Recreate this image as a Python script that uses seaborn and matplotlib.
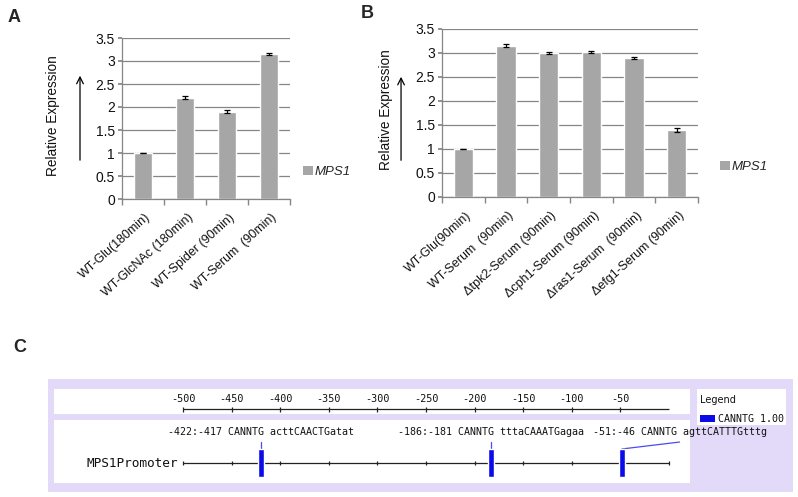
import numpy as np
import pandas as pd
import seaborn as sns
import matplotlib.pyplot as plt
import matplotlib.transforms as mtransforms
from matplotlib.patches import Rectangle, Patch

sns.set_theme(context="notebook", style="white")
plt.rcParams['font.family'] = ['Liberation Sans', 'DejaVu Sans']

# ---- data ----
a_conditions = ["WT-Glu(180min)", "WT-GlcNAc (180min)", "WT-Spider (90min)", "WT-Serum  (90min)"]
a_values = [1.0, 2.2, 1.9, 3.15]
a_errors = [0.01, 0.035, 0.025, 0.03]

b_conditions = ["WT-Glu(90min)", "WT-Serum  (90min)", "\u0394tpk2-Serum (90min)",
                "\u0394cph1-Serum (90min)", "\u0394ras1-Serum  (90min)", "\u0394efg1-Serum (90min)"]
b_values = [1.0, 3.15, 3.0, 3.02, 2.89, 1.4]
b_errors = [0.01, 0.03, 0.025, 0.025, 0.025, 0.04]

y_ticks = [0, 0.5, 1, 1.5, 2, 2.5, 3, 3.5]
gene = "MPS1"

promoter_name = "MPS1Promoter"
motif_name = "CANNTG"
motif_score = 1.00
motif_start = [-422, -186, -51]
motif_end = [-417, -181, -46]
motif_context = ["acttCAACTGatat", "tttaCAAATGagaa", "agttCATTTGtttg"]
ruler_ticks = [-500, -450, -400, -350, -300, -250, -200, -150, -100, -50]
track_ticks = [-500, -450, -400, -350, -300, -250, -200, -150, -100, -50, 0]

BAR = "#A6A6A6"
GRID = "#868686"
LAV = "#E2DAF8"
BLUE = "#0B0BEA"
TXT = "#111111"

W, H = 798, 497
fig = plt.figure(figsize=(W / 100, H / 100), dpi=100)


def px_rect(x0, y0, x1, y1):
    return [x0 / W, 1 - y1 / H, (x1 - x0) / W, (y1 - y0) / H]


def bar_panel(rect, labels, values, errors, ylab_x, arrow_x, arrow_y, leg_xy):
    ax = fig.add_axes(rect)
    df = pd.DataFrame({"condition": labels, "value": values})
    sns.barplot(data=df, x="condition", y="value", order=labels, color=BAR,
                saturation=1, width=0.45, errorbar=None, ax=ax, zorder=2)
    ax.errorbar(np.arange(len(values)), values, yerr=errors, fmt="none",
                ecolor="black", elinewidth=0.9, capsize=2.5, capthick=0.9, zorder=3)
    n = len(labels)
    ax.set_xlim(-0.5, n - 0.5)
    ax.set_ylim(0, 3.5)
    ax.set_yticks(y_ticks)
    ax.set_yticklabels([f"{v:g}" for v in y_ticks], fontsize=10, color=TXT)
    ax.yaxis.grid(True, color=GRID, lw=0.9)
    ax.set_axisbelow(True)
    for s in ["top", "right"]:
        ax.spines[s].set_visible(False)
    for s in ["left", "bottom"]:
        ax.spines[s].set_color(GRID)
        ax.spines[s].set_linewidth(0.9)
    ax.tick_params(axis="y", length=3, color=GRID, pad=2, left=True)
    ax.set_xticks(range(n))
    ax.set_xticklabels(labels, rotation=42, ha="right", rotation_mode="anchor",
                       fontsize=9, color=TXT)
    ax.set_xticks(np.arange(-0.5, n), minor=True)
    ax.tick_params(axis="x", which="major", length=0, pad=9, bottom=True)
    ax.tick_params(axis="x", which="minor", length=4, color=GRID, bottom=True)
    shift = mtransforms.ScaledTranslation(2 / 100, 0, fig.dpi_scale_trans)
    for t in ax.get_xticklabels():
        t.set_transform(t.get_transform() + shift)
    ax.set_xlabel("")
    ax.set_ylabel("Relative Expression", fontsize=9.8, color=TXT)
    ax.yaxis.set_label_coords(ylab_x, 0.52)
    ax.annotate("", xy=(arrow_x, arrow_y[1]), xytext=(arrow_x, arrow_y[0]),
                xycoords="axes fraction", annotation_clip=False,
                arrowprops=dict(arrowstyle="->", color="black", lw=0.9))
    ax.legend(handles=[Patch(facecolor=BAR, edgecolor="none")], labels=[gene],
              loc="center left", bbox_to_anchor=leg_xy, frameon=False,
              handlelength=0.75, handleheight=0.75, handletextpad=0.15, borderpad=0,
              borderaxespad=0, prop={"style": "italic", "size": 9.5})
    return ax


# Panel A
bar_panel(px_rect(122, 38, 290, 199), a_conditions, a_values, a_errors,
          ylab_x=-0.37, arrow_x=-0.25, arrow_y=(0.224, 0.783), leg_xy=(1.077, 0.168))
# Panel B
bar_panel(px_rect(442, 29, 698, 197), b_conditions, b_values, b_errors,
          ylab_x=-0.19, arrow_x=-0.16, arrow_y=(0.202, 0.732), leg_xy=(1.086, 0.18))

for letter, x, y in [("A", 14, 18), ("B", 367, 13), ("C", 20, 348)]:
    fig.text(x / W, 1 - y / H, letter, fontsize=13, fontweight="bold",
             ha="center", va="center")

# Panel C : promoter motif map
fig.patches.append(Rectangle((48 / W, 1 - 492 / H), 745 / W, 113 / H, zorder=-10,
                             transform=fig.transFigure, facecolor=LAV, edgecolor="none"))

px_per_bp = (669 - 183) / 500.0
box_x0, box_x1 = 54, 690
xlim = (-500 - (183 - box_x0) / px_per_bp, (box_x1 - 669) / px_per_bp)
mono = "DejaVu Sans Mono"


def white_axes(rect):
    ax = fig.add_axes(rect)
    ax.set_facecolor("white")
    ax.set_xticks([])
    ax.set_yticks([])
    for s in ax.spines.values():
        s.set_visible(False)
    ax.set_ylim(0, 1)
    return ax


# ruler
ax_r = white_axes(px_rect(box_x0, 389, box_x1, 414))
ax_r.set_xlim(*xlim)
ax_r.hlines(0.2, -500, 0, color="#222222", lw=0.9)
ax_r.vlines(ruler_ticks, 0.1, 0.3, color="#222222", lw=0.9)
for t in ruler_ticks:
    ax_r.text(t, 0.58, f"{t}", ha="center", va="center", fontsize=7.3,
              family=mono, color=TXT)

# track
ax_t = white_axes(px_rect(box_x0, 420, box_x1, 483))
ax_t.set_xlim(*xlim)
line_y = 0.317
ax_t.hlines(line_y, -500, 0, color="#222222", lw=0.9)
ax_t.vlines(track_ticks, line_y - 0.035, line_y + 0.035, color="#222222", lw=0.9)
ax_t.text(-505, line_y, promoter_name, ha="right", va="center", fontsize=9.2,
          family=mono, color=TXT)

starts = np.array(motif_start)
ends = np.array(motif_end)
centers = (starts + ends) / 2.0
ax_t.bar(centers, 0.445, bottom=0.095, width=ends - starts + 1, color=BLUE, zorder=3)

char_bp = 6.03 / px_per_bp
prev_right = -np.inf
label_y = 0.81
for s, e, c, ctx in zip(starts, ends, centers, motif_context):
    txt = f"{s}:{e} {motif_name} {ctx}"
    half = len(txt) * char_bp / 2
    lc = max(c, prev_right + 8 / px_per_bp + half)
    prev_right = lc + half
    ax_t.text(lc, label_y, txt, ha="center", va="center", fontsize=7.2,
              family=mono, color=TXT)
    ax_t.plot([c, lc], [0.54, 0.65], color="#4B4BF0", lw=0.9, zorder=2)

# legend box
ax_l = white_axes(px_rect(697, 389, 786, 425))
ax_l.set_xlim(0, 1)
ax_l.text(0.035, 0.69, "Legend", ha="left", va="center", fontsize=7, color=TXT,
          family="DejaVu Sans")
ax_l.add_patch(Rectangle((0.035, 0.08), 0.17, 0.2, facecolor=BLUE, edgecolor="none"))
ax_l.text(0.235, 0.18, f"{motif_name} {motif_score:.2f}", ha="left", va="center",
          fontsize=7.2, family=mono, color=TXT)

fig.savefig("out.png", dpi=100)
